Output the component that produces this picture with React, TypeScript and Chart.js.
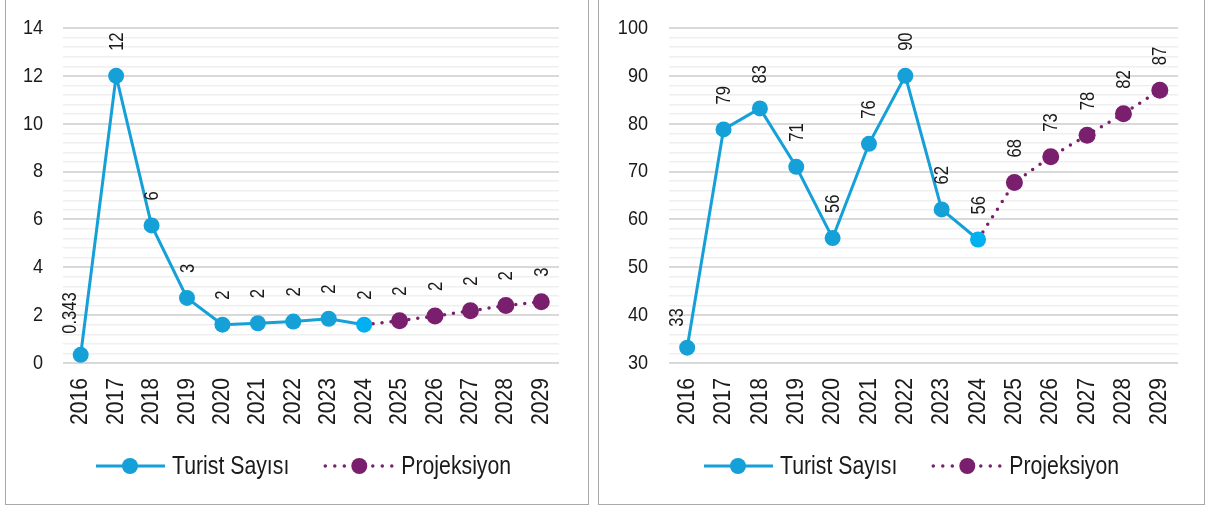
import React, { useEffect, useRef } from 'react';
import { Chart, registerables } from 'chart.js';

Chart.register(...registerables);

const YEARS = ['2016', '2017', '2018', '2019', '2020', '2021', '2022', '2023', '2024', '2025', '2026', '2027', '2028', '2029'];

const LEFT_ACTUAL = [0.343, 12.0, 5.75, 2.72, 1.6, 1.66, 1.73, 1.85, 1.6, null, null, null, null, null];
const LEFT_PROJ = [null, null, null, null, null, null, null, null, 1.6, 1.77, 1.96, 2.18, 2.4, 2.56];

const RIGHT_ACTUAL = [33.2, 78.8, 83.2, 71.0, 56.1, 75.8, 90.0, 62.1, 55.8, null, null, null, null, null];
const RIGHT_PROJ = [null, null, null, null, null, null, null, null, 55.8, 67.7, 73.1, 77.6, 82.1, 87.0];

const SERIES_NAMES = ['Turist Sayısı', 'Projeksiyon'];

const FONT = "'Liberation Sans Narrow', 'Liberation Sans', Arial, sans-serif";
const BLUE = '#15a0d8';
const BLUE_LAST = '#00b0f0';
const PURPLE = '#7a1f6e';
const TEXT = '#1a1a1a';

const fmt = (v: number) => (v < 1 ? v.toFixed(3) : String(Math.round(v)));

function narrowText(
  ctx: CanvasRenderingContext2D,
  text: string,
  x: number,
  y: number,
  size: number,
  squeeze: number,
  align: CanvasTextAlign,
  rot = 0
) {
  ctx.save();
  ctx.translate(x, y);
  if (rot) ctx.rotate(rot);
  ctx.scale(squeeze, 1);
  ctx.font = `${size}px ${FONT}`;
  ctx.textAlign = align;
  ctx.textBaseline = 'middle';
  ctx.fillStyle = TEXT;
  ctx.fillText(text, 0, 0);
  ctx.restore();
}

const labelPlugin = {
  id: 'rotLabels',
  afterDatasetsDraw(chart: any) {
    const ctx = chart.ctx;
    chart.data.datasets.forEach((ds: any, di: number) => {
      const meta = chart.getDatasetMeta(di);
      meta.data.forEach((pt: any, i: number) => {
        const v = ds.data[i];
        if (v == null) return;
        if (di === 1 && i === 8) return;
        const first = i === 0;
        narrowText(ctx, fmt(v), pt.x + (first ? -10 : 1), pt.y - (first ? 21 : 25), 20, 0.83, 'left', -Math.PI / 2);
      });
    });
  },
};

const axisTextPlugin = {
  id: 'axisText',
  afterDraw(chart: any, _a: any, opts: any) {
    const ctx = chart.ctx;
    const area = chart.chartArea;
    const ys = chart.scales.y;
    ys.ticks.forEach((t: any) => {
      if (!opts.isMajor(t.value)) return;
      narrowText(ctx, String(Math.round(t.value)), area.left - opts.yPad, ys.getPixelForValue(t.value), 21, 0.86, 'right');
    });
    const xs = chart.scales.x;
    YEARS.forEach((lab, i) => {
      narrowText(ctx, lab, xs.getPixelForTick(i), area.bottom + 15, 24, 0.88, 'right', -Math.PI / 2);
    });
  },
};

const legendPlugin = {
  id: 'customLegend',
  afterDraw(chart: any, _args: any, opts: any) {
    const ctx = chart.ctx;
    const y = opts.y;
    let x = opts.x;
    const size = 25;
    const sq = 0.85;
    const items = [
      { color: BLUE, dashed: false, text: SERIES_NAMES[0] },
      { color: PURPLE, dashed: true, text: SERIES_NAMES[1] },
    ];
    items.forEach((it) => {
      ctx.save();
      ctx.strokeStyle = it.color;
      if (it.dashed) {
        ctx.lineWidth = 3.5;
        ctx.lineCap = 'round';
        ctx.setLineDash([0, 9.5]);
      } else {
        ctx.lineWidth = 3;
      }
      ctx.beginPath();
      ctx.moveTo(x + 1, y);
      ctx.lineTo(x + 70, y);
      ctx.stroke();
      ctx.setLineDash([]);
      ctx.fillStyle = it.color;
      ctx.beginPath();
      ctx.arc(x + 35, y, 8, 0, Math.PI * 2);
      ctx.fill();
      ctx.restore();
      narrowText(ctx, it.text, x + 77, y + 1, size, sq, 'left');
      ctx.save();
      ctx.font = `${size}px ${FONT}`;
      const w = ctx.measureText(it.text).width * sq;
      ctx.restore();
      x += 77 + w + 35;
    });
  },
};

type Props = {
  actual: (number | null)[];
  proj: (number | null)[];
  min: number;
  max: number;
  step: number;
  major: number;
  width: number;
  height: number;
  yWidth: number;
  padRight: number;
  yPad: number;
  legendX: number;
};

function LineChart(p: Props) {
  const ref = useRef<HTMLCanvasElement>(null);
  useEffect(() => {
    const isMajor = (v: number) => Math.abs((v - p.min) / p.major - Math.round((v - p.min) / p.major)) < 1e-6;
    const chart = new Chart(ref.current!, {
      type: 'line',
      data: {
        labels: YEARS,
        datasets: [
          {
            label: SERIES_NAMES[0],
            data: p.actual,
            borderColor: BLUE,
            borderWidth: 3,
            pointRadius: 8,
            pointHoverRadius: 8,
            pointBackgroundColor: p.actual.map((_, i) => (i === 8 ? BLUE_LAST : BLUE)),
            pointBorderColor: p.actual.map((_, i) => (i === 8 ? BLUE_LAST : BLUE)),
            pointBorderWidth: 0,
            tension: 0,
            spanGaps: false,
          },
          {
            label: SERIES_NAMES[1],
            data: p.proj,
            borderColor: PURPLE,
            borderWidth: 3.5,
            borderDash: [0, 9],
            borderCapStyle: 'round',
            pointRadius: p.proj.map((_, i) => (i === 8 ? 0 : 8.5)),
            pointHoverRadius: 8.5,
            pointBackgroundColor: PURPLE,
            pointBorderColor: PURPLE,
            pointBorderWidth: 0,
            tension: 0,
          },
        ],
      },
      options: {
        responsive: false,
        animation: false,
        events: [],
        layout: { padding: { top: 28, left: 0, right: p.padRight, bottom: p.height - 363 - 90 } },
        plugins: {
          legend: { display: false },
          tooltip: { enabled: false },
          customLegend: { x: p.legendX, y: 466 },
          axisText: { isMajor, yPad: p.yPad },
        } as any,
        scales: {
          x: {
            offset: true,
            grid: { display: false, drawTicks: false },
            border: { display: false },
            ticks: { display: false, autoSkip: false },
            afterFit: (s: any) => {
              s.height = 90;
            },
          },
          y: {
            min: p.min,
            max: p.max,
            border: { display: false },
            grid: {
              drawTicks: false,
              color: (c: any) => (c.tick && isMajor(c.tick.value) ? '#d9d9d9' : '#efefef'),
              lineWidth: (c: any) => (c.tick && isMajor(c.tick.value) ? 2 : 1.5),
            },
            ticks: {
              display: false,
              stepSize: p.step,
              autoSkip: false,
            },
            afterFit: (s: any) => {
              s.width = p.yWidth;
            },
          },
        },
      },
      plugins: [labelPlugin, axisTextPlugin, legendPlugin],
    });
    return () => chart.destroy();
  }, []);
  return <canvas ref={ref} width={p.width} height={p.height} style={{ display: 'block' }} />;
}

export default function App() {
  const box = (left: number, width: number): React.CSSProperties => ({
    position: 'absolute',
    left,
    top: -3,
    width,
    height: 508,
    border: '1.5px solid #a9a9a9',
    boxSizing: 'border-box',
    background: '#fff',
  });
  return (
    <div style={{ position: 'fixed', left: 0, top: 0, width: 1206, height: 508, background: '#fff', overflow: 'hidden' }}>
      <div style={box(5, 584)} />
      <div style={box(598, 607)} />
      <div style={{ position: 'absolute', left: 6, top: 0 }}>
        <LineChart
          actual={LEFT_ACTUAL}
          proj={LEFT_PROJ}
          min={0}
          max={14}
          step={0.4}
          major={2}
          width={582}
          height={503}
          yWidth={57}
          padRight={29}
          yPad={20}
          legendX={89}
        />
      </div>
      <div style={{ position: 'absolute', left: 599, top: 0 }}>
        <LineChart
          actual={RIGHT_ACTUAL}
          proj={RIGHT_PROJ}
          min={30}
          max={100}
          step={2}
          major={10}
          width={604}
          height={503}
          yWidth={70}
          padRight={25}
          yPad={21}
          legendX={104}
        />
      </div>
    </div>
  );
}
